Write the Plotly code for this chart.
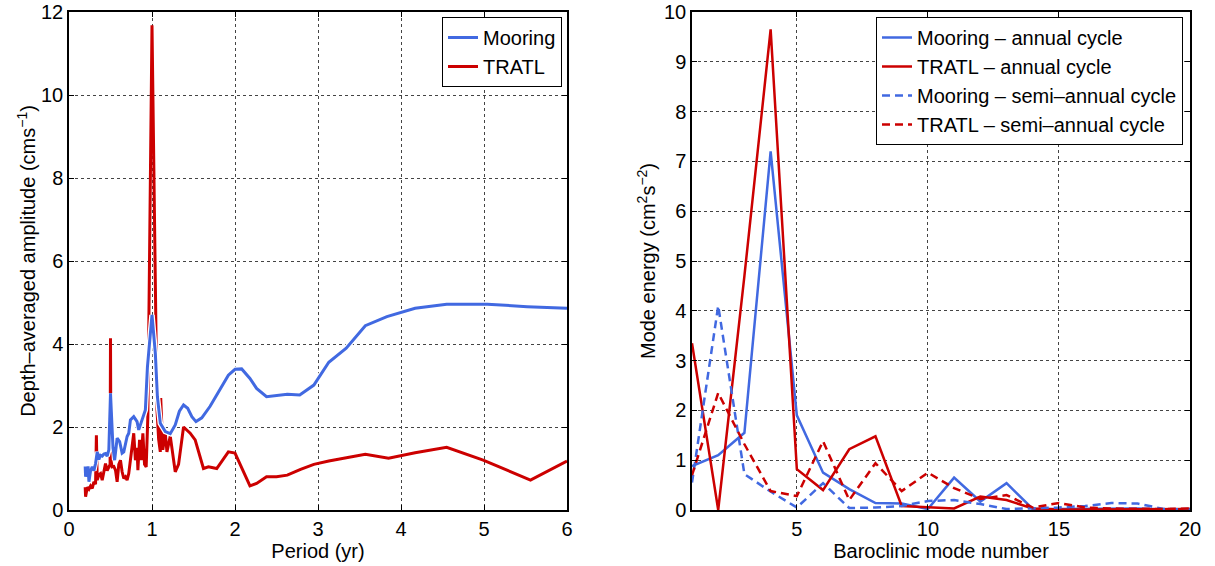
import plotly.graph_objects as go

# ---------------- Left panel data: depth-averaged amplitude vs period ----------------
moor_period = [0.195, 0.20, 0.21, 0.22, 0.23, 0.24, 0.26, 0.28, 0.30, 0.32, 0.34, 0.36, 0.38,
               0.40, 0.42, 0.44, 0.46, 0.48, 0.50, 0.52, 0.53, 0.55, 0.58, 0.61, 0.64, 0.66,
               0.70, 0.72, 0.74, 0.78, 0.82, 0.84, 0.88, 0.92, 0.945, 1.00, 1.04, 1.065, 1.10,
               1.16, 1.22, 1.28, 1.33, 1.38, 1.43, 1.48, 1.53, 1.60, 1.70, 1.78, 1.92, 2.00,
               2.08, 2.18, 2.26, 2.38, 2.63, 2.78, 2.95, 3.13, 3.34, 3.57, 3.83, 4.17, 4.55,
               5.04, 5.52, 6.00]
moor_amp = [1.05, 0.80, 1.00, 0.85, 1.05, 0.68, 0.95, 1.04, 0.95, 1.12, 1.40, 1.22, 1.32,
            1.30, 1.35, 1.36, 1.30, 1.45, 2.81, 1.90, 1.50, 1.20, 1.73, 1.65, 1.37, 1.40,
            1.77, 1.85, 2.17, 2.25, 2.13, 1.93, 2.17, 2.41, 3.45, 4.70, 3.78, 2.73, 2.09,
            1.89, 1.84, 2.05, 2.38, 2.53, 2.45, 2.25, 2.13, 2.22, 2.50, 2.77, 3.25, 3.39,
            3.40, 3.17, 2.93, 2.73, 2.79, 2.77, 3.01, 3.56, 3.90, 4.44, 4.66, 4.86, 4.96,
            4.96, 4.90, 4.86]

tratl_period = [0.195, 0.20, 0.22, 0.24, 0.26, 0.28, 0.30, 0.32, 0.33, 0.34, 0.36, 0.38, 0.40,
                0.42, 0.44, 0.46, 0.48, 0.495, 0.50, 0.505, 0.52, 0.54, 0.56, 0.58, 0.60, 0.62,
                0.64, 0.66, 0.68, 0.70, 0.72, 0.74, 0.76, 0.78, 0.80, 0.82, 0.83, 0.85, 0.87,
                0.89, 0.91, 0.93, 0.95, 1.00, 1.06, 1.08, 1.10, 1.105, 1.13, 1.16, 1.18, 1.22,
                1.28, 1.32, 1.38, 1.46, 1.52, 1.62, 1.68, 1.78, 1.92, 2.00, 2.18, 2.26, 2.38,
                2.50, 2.63, 2.79, 2.95, 3.13, 3.57, 3.85, 4.17, 4.55, 4.99, 5.56, 6.00]
tratl_amp = [0.55, 0.32, 0.55, 0.50, 0.58, 0.52, 0.68, 0.62, 1.80, 0.72, 0.85, 0.88, 0.72,
             0.95, 1.12, 0.95, 1.05, 1.10, 4.14, 1.20, 1.04, 1.05, 0.96, 0.68, 1.10, 1.20,
             0.92, 0.76, 0.80, 0.72, 0.88, 1.20, 1.53, 1.85, 1.20, 1.50, 0.96, 1.69, 1.20,
             1.85, 1.10, 1.04, 2.25, 11.68, 2.41, 1.70, 1.40, 2.70, 1.45, 1.85, 1.40, 1.78,
             0.92, 1.10, 2.00, 1.85, 1.69, 1.00, 1.04, 1.00, 1.40, 1.37, 0.58, 0.64, 0.80,
             0.80, 0.84, 0.98, 1.10, 1.18, 1.34, 1.25, 1.38, 1.51, 1.20, 0.72, 1.18]

# ---------------- Right panel data: mode energy vs baroclinic mode ----------------
modes = list(range(1, 21))
moor_annual = [0.88, 1.10, 1.55, 7.20, 1.90, 0.75, 0.42, 0.14, 0.13, 0.02, 0.65, 0.17,
               0.54, 0.02, 0.02, 0.02, 0.03, 0.03, 0.01, 0.02]
tratl_annual = [3.35, 0.00, 4.70, 9.65, 0.82, 0.40, 1.22, 1.48, 0.08, 0.05, 0.03, 0.27,
                0.20, 0.03, 0.01, 0.01, 0.01, 0.01, 0.01, 0.02]
moor_semi = [0.55, 4.10, 0.72, 0.37, 0.05, 0.54, 0.04, 0.05, 0.08, 0.18, 0.20, 0.12,
             0.02, 0.03, 0.05, 0.08, 0.14, 0.13, 0.02, 0.01]
tratl_semi = [0.70, 2.35, 1.32, 0.38, 0.28, 1.38, 0.20, 0.94, 0.38, 0.75, 0.44, 0.22,
              0.30, 0.05, 0.14, 0.05, 0.03, 0.02, 0.02, 0.03]

left_xticks = [0, 1, 2, 3, 4, 5, 6]
left_yticks = [0, 2, 4, 6, 8, 10, 12]
right_xticks = [5, 10, 15, 20]
right_yticks = list(range(0, 11))

BLUE = "#4169E1"
RED = "#CC0000"
FONT = "Liberation Sans, Arial, Helvetica, sans-serif"

fig = go.Figure()

# left panel
fig.add_trace(go.Scatter(x=tratl_period, y=tratl_amp, mode="lines", name="TRATL",
                         line=dict(color=RED, width=3), xaxis="x", yaxis="y",
                         legend="legend", legendrank=2))
fig.add_trace(go.Scatter(x=moor_period, y=moor_amp, mode="lines", showlegend=False,
                         line=dict(color="white", width=5.5), xaxis="x", yaxis="y",
                         hoverinfo="skip"))
fig.add_trace(go.Scatter(x=moor_period, y=moor_amp, mode="lines", name="Mooring",
                         line=dict(color=BLUE, width=3), xaxis="x", yaxis="y",
                         legend="legend", legendrank=1))

# right panel
fig.add_trace(go.Scatter(x=modes, y=moor_annual, mode="lines", name="Mooring – annual cycle",
                         line=dict(color=BLUE, width=2.5), xaxis="x2", yaxis="y2",
                         legend="legend2"))
fig.add_trace(go.Scatter(x=modes, y=tratl_annual, mode="lines", name="TRATL – annual cycle",
                         line=dict(color=RED, width=2.5), xaxis="x2", yaxis="y2",
                         legend="legend2"))
fig.add_trace(go.Scatter(x=modes, y=moor_semi, mode="lines", name="Mooring – semi–annual cycle",
                         line=dict(color=BLUE, width=2.5, dash="8px,5px"), xaxis="x2", yaxis="y2",
                         legend="legend2"))
fig.add_trace(go.Scatter(x=modes, y=tratl_semi, mode="lines", name="TRATL – semi–annual cycle",
                         line=dict(color=RED, width=2.5, dash="8px,5px"), xaxis="x2", yaxis="y2",
                         legend="legend2"))

W, H = 1215, 566
lx0, lx1 = 69 / W, 567 / W
rx0, rx1 = 692 / W, 1190 / W
y0, y1 = 1 - 510 / H, 1 - 12 / H

axis_common = dict(showline=True, linecolor="black", linewidth=1.5, mirror="ticks",
                   ticks="inside", ticklen=5, tickcolor="black", tickwidth=1,
                   showgrid=True, gridcolor="#444444", griddash="dot", gridwidth=1,
                   zeroline=False, automargin=False, ticklabeloverflow="allow",
                   tickfont=dict(family=FONT, size=20, color="black"))

fig.update_layout(
    width=W, height=H,
    margin=dict(l=0, r=0, t=0, b=0),
    paper_bgcolor="white", plot_bgcolor="white",
    font=dict(family=FONT, size=20, color="black"),
    xaxis=dict(domain=[lx0, lx1], range=[0, 6], tickvals=left_xticks, anchor="y",
               title=dict(text="Period (yr)", font=dict(size=20), standoff=0), **axis_common),
    yaxis=dict(domain=[y0, y1], range=[0, 12], tickvals=left_yticks, anchor="x",
               title=dict(text="Depth–averaged amplitude (cms<sup>−1</sup>)", font=dict(size=20),
                          standoff=0), **axis_common),
    xaxis2=dict(domain=[rx0, rx1], range=[1, 20], tickvals=right_xticks, anchor="y2",
                title=dict(text="Baroclinic mode number", font=dict(size=20), standoff=0),
                **axis_common),
    yaxis2=dict(domain=[y0, y1], range=[0, 10], tickvals=right_yticks, anchor="x2",
                title=dict(text="Mode energy (cm<sup>2</sup>s<sup>−2</sup>)", font=dict(size=20),
                           standoff=3), **axis_common),
    legend=dict(x=562 / W, y=1 - 17 / H, xanchor="right", yanchor="top",
                bgcolor="white", bordercolor="black", borderwidth=1,
                font=dict(family=FONT, size=20), tracegroupgap=0, itemwidth=30,
                traceorder="normal"),
    legend2=dict(x=1183 / W, y=1 - 17 / H, xanchor="right", yanchor="top",
                 bgcolor="white", bordercolor="black", borderwidth=1,
                 font=dict(family=FONT, size=20), tracegroupgap=0, itemwidth=30,
                 traceorder="normal"),
    showlegend=True,
)

fig.write_html("out.html", config={"displayModeBar": False},
               post_script="document.body.style.margin='0px';document.body.style.overflow='hidden';")
